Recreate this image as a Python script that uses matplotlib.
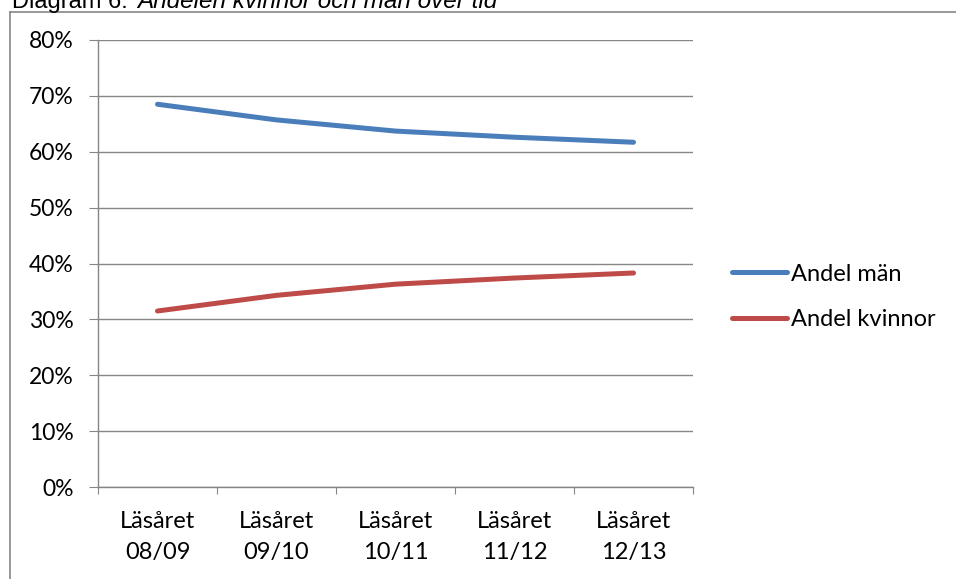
import matplotlib.pyplot as plt
from matplotlib.lines import Line2D

# data
years = ['Läsåret\n08/09', 'Läsåret\n09/10', 'Läsåret\n10/11', 'Läsåret\n11/12', 'Läsåret\n12/13']
andel_man = [68.5, 65.7, 63.7, 62.6, 61.7]
andel_kvinnor = [31.5, 34.3, 36.3, 37.4, 38.3]

plt.rcParams['font.family'] = ['Lato', 'DejaVu Sans']
grey = '#868686'
W, H = 956, 579

fig = plt.figure(figsize=(9.56, 5.79), dpi=100)
ax = fig.add_axes([98 / W, 1 - 487 / H, 595 / W, 447 / H])

# chart border: only top and left edges are inside the crop
fig.add_artist(Line2D([9.5 / W, 1], [1 - 11.5 / H, 1 - 11.5 / H], transform=fig.transFigure, color=grey, lw=1.2))
fig.add_artist(Line2D([9.5 / W, 9.5 / W], [0, 1 - 11.5 / H], transform=fig.transFigure, color=grey, lw=1.2))

# title, partly cut at the top like the original
fig.text(12 / W, 1 - 8 / H, 'Diagram 6:', fontsize=17, family='Liberation Sans',
         va='baseline', ha='left')
fig.text(137 / W, 1 - 8 / H, 'Andelen kvinnor och män över tid', fontsize=17.5,
         family='Liberation Sans', style='italic', va='baseline', ha='left')

x = [i + 0.5 for i in range(len(years))]
ax.plot(x, andel_man, color='#4A7EBB', lw=3.6, solid_capstyle='round', label='Andel män')
ax.plot(x, andel_kvinnor, color='#BE4B48', lw=3.6, solid_capstyle='round', label='Andel kvinnor')

ax.set_xlim(0, 5)
ax.set_ylim(0, 80)
ax.set_yticks(range(0, 81, 10))
ax.set_yticklabels([f'{v}%' for v in range(0, 81, 10)])
ax.yaxis.grid(True, color=grey, lw=1)
ax.set_axisbelow(True)

ax.set_xticks(range(6))
ax.set_xticklabels([])
ax.set_xticks(x, minor=True)
ax.set_xticklabels(years, minor=True, fontsize=17, linespacing=1.6)
ax.tick_params(axis='x', which='major', length=5, color=grey, direction='out')
ax.tick_params(axis='x', which='minor', length=0, pad=17)
ax.tick_params(axis='y', length=6.5, color=grey, labelsize=16.5, pad=11)

for s in ['top', 'right']:
    ax.spines[s].set_visible(False)
for s in ['left', 'bottom']:
    ax.spines[s].set_color(grey)
    ax.spines[s].set_linewidth(1)

leg = ax.legend(loc='center left', frameon=False,
                fontsize=17, handlelength=2.33, handletextpad=0.15, labelspacing=1.05,
                borderaxespad=0)
# place legend rows near y=273 and 320 px
leg.set_bbox_to_anchor((1.05, 1 - (297 - 40) / 447), transform=ax.transAxes)

fig.savefig('out.png', dpi=100)
